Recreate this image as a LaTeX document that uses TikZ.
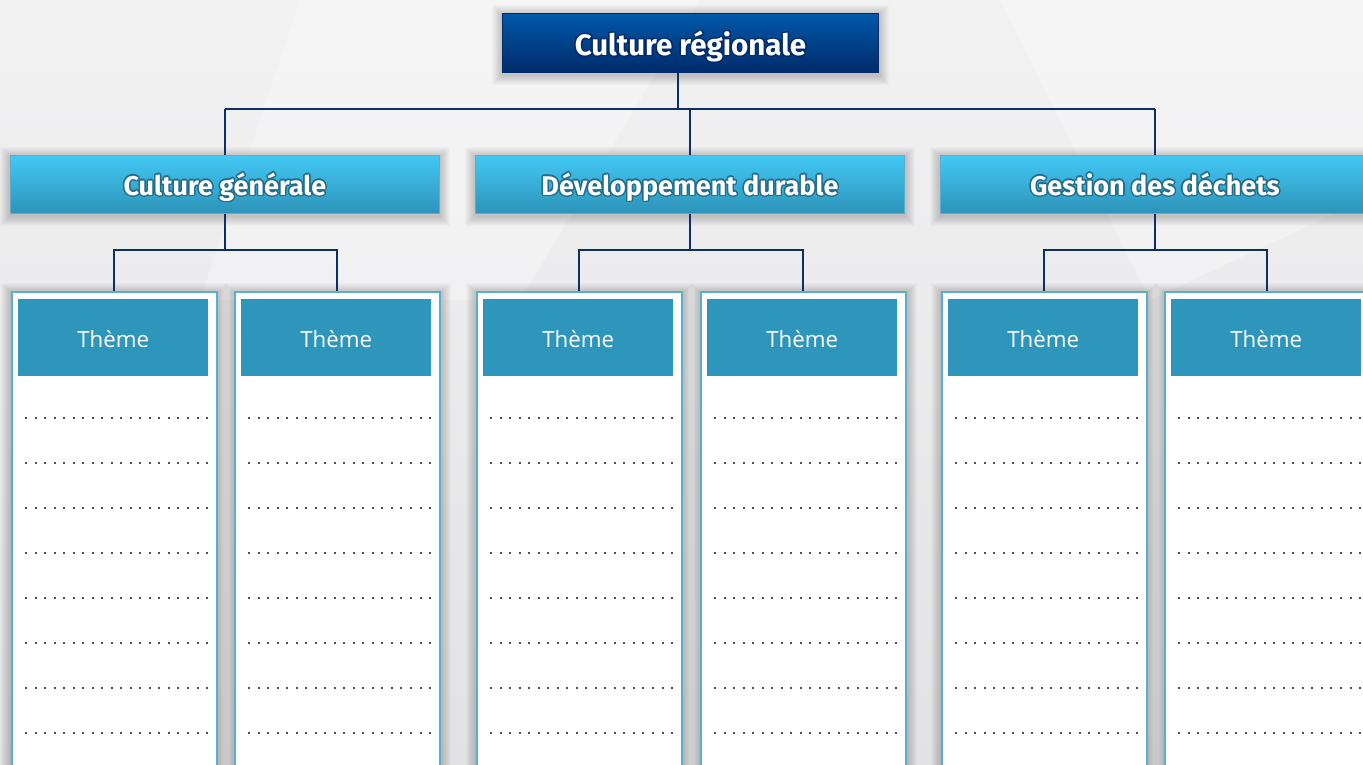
\documentclass[tikz,border=0pt]{standalone}
\usepackage{fontspec}
\setmainfont{Fira Sans}
\newfontfamily\themefont{Open Sans}
\usepackage[copies]{contour}
\usetikzlibrary{calc,backgrounds}
\pgfdeclarelayer{bglayer}
\pgfsetlayers{bglayer,background,main}
\definecolor{topA}{HTML}{0058A9}
\definecolor{topB}{HTML}{002B6A}
\definecolor{midA}{HTML}{43C8F5}
\definecolor{midB}{HTML}{2D93B8}
\definecolor{connC}{HTML}{0E2F63}
\definecolor{panelB}{HTML}{5AAECF}
\definecolor{themeC}{HTML}{2E96BB}
\definecolor{dotC}{HTML}{4F4F4F}
\definecolor{bgA}{HTML}{F2F2F3}
\definecolor{bgB}{HTML}{E2E2E4}
\contourlength{1.4pt}
\newcommand\boxshadow[1]{%
  \foreach \k in {1,...,10}{%
    \fill[black,opacity=0.02] ($(#1.north west)+(-\k,-\k+2)$) rectangle ($(#1.south east)+(\k,\k+2)$);
  }}
\tikzset{
  topbox/.style={rectangle, draw=topB, line width=1pt, top color=topA, bottom color=topB,
    minimum width=376pt, minimum height=59pt, anchor=north west, inner sep=0pt,
    font=\fontsize{29.5}{32}\selectfont\bfseries, text=white, text height=25pt, text depth=0pt},
  midbox/.style={rectangle, draw=panelB, line width=0.8pt, top color=midA, bottom color=midB,
    minimum width=429pt, minimum height=58pt, anchor=north west, inner sep=0pt,
    font=\fontsize{27}{30}\selectfont\bfseries, text=white, text height=22pt, text depth=0pt},
  panelbox/.style={rectangle, draw=panelB, line width=1.5pt, fill=white,
    minimum width=205pt, minimum height=520pt, anchor=north west, inner sep=0pt},
  themebox/.style={rectangle, fill=themeC, minimum width=190pt, minimum height=77pt,
    anchor=north west, inner sep=0pt, text=white, font=\themefont\fontsize{22.3}{26}\selectfont,
    text height=19pt, text depth=0pt},
  connector/.style={draw=connC, line width=2pt},
  dotline/.style={draw=dotC, line width=2pt, dash pattern=on 2pt off 7.53pt}
}
\begin{document}
\begin{tikzpicture}[x=1pt,y=-1pt]
\useasboundingbox (0,0) rectangle (1363,765);
\begin{pgfonlayer}{bglayer}
\shade[top color=bgA, bottom color=bgB] (0,0) rectangle (1363,765);
\fill[white, opacity=0.3] (300,0) -- (700,0) -- (520,300) -- (200,300) -- cycle;
\fill[white, opacity=0.3] (1000,0) -- (1363,0) -- (1363,200) -- (1150,300) -- cycle;
\end{pgfonlayer}
\coordinate (j0) at (678,109);
\coordinate (h1) at (0,250);
% boxes
\node[topbox] (top) at (502,13) {\contour{topB}{Culture régionale}};
\node[midbox] (m1) at (10,155) {\contour{midB!75!black}{Culture générale}};
\node[midbox] (m2) at (475,155) {\contour{midB!75!black}{Développement durable}};
\node[midbox] (m3) at (940,155) {\contour{midB!75!black}{Gestion des déchets}};
\foreach \i/\L in {1/11,2/234,3/476,4/700,5/941,6/1164}{
  \node[panelbox] (p\i) at (\L,291) {};
  \node[themebox] (t\i) at (\L+7,299) {Thème};
  \foreach \yy in {418,463,508,553,598,643,688,733}{
    \draw[dotline] (\L+14,\yy) -- (\L+197,\yy);
  }
}
\begin{pgfonlayer}{background}
\foreach \n in {top,m1,m2,m3,p1,p2,p3,p4,p5,p6}{\boxshadow{\n}}
\end{pgfonlayer}
% connectors
\draw[connector] (top.south -| j0) -- (j0);
\draw[connector] (m1.north |- j0) -- (m3.north |- j0);
\draw[connector] (m1.north |- j0) -- (m1.north);
\draw[connector] (m2.north |- j0) -- (m2.north);
\draw[connector] (m3.north |- j0) -- (m3.north);
\draw[connector] (m1.south) -- (m1.south |- h1);
\draw[connector] (p1.north) -- (p1.north |- h1) -| (p2.north);
\draw[connector] (m2.south) -- (m2.south |- h1);
\draw[connector] (p3.north) -- (p3.north |- h1) -| (p4.north);
\draw[connector] (m3.south) -- (m3.south |- h1);
\draw[connector] (p5.north) -- (p5.north |- h1) -| (p6.north);
\end{tikzpicture}
\end{document}
